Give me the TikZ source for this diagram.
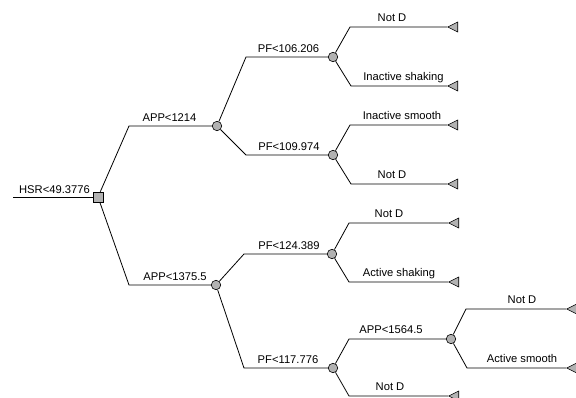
\documentclass[tikz,border=0pt]{standalone}
\usepackage{fontspec}
\setmainfont{Liberation Sans}
\usetikzlibrary{shapes.geometric}
\begin{document}
\begin{tikzpicture}[x=1pt,y=-1pt,
  edgeline/.style={draw=black, line width=0.8pt},
  decsq/.style={rectangle, draw=black, line width=0.6pt, fill=black!30, minimum size=10pt, inner sep=0pt},
  chance/.style={circle, draw=black, line width=0.6pt, fill=black!30, minimum size=9.5pt, inner sep=0pt},
  leaf/.style={isosceles triangle, isosceles triangle stretches, shape border rotate=180, draw=black, line width=0.6pt, fill=black!30, minimum width=10pt, minimum height=10pt, inner sep=0pt, anchor=apex},
  lbl/.style={anchor=base, inner sep=0pt, font=\fontsize{11.2}{13}\selectfont}]
\useasboundingbox (0,0) rectangle (576,398);

% nodes
\coordinate (in) at (13,197);
\node[decsq] (root) at (98,197) {};
\node[chance] (A1) at (217,126) {};
\node[chance] (A2) at (216,285) {};
\node[chance] (P1) at (333,57) {};
\node[chance] (P2) at (333,155) {};
\node[chance] (P3) at (332,254) {};
\node[chance] (P4) at (333,368) {};
\node[chance] (Q) at (451,339) {};
\node[leaf] (L1) at (447,27) {};
\node[leaf] (L2) at (447,86) {};
\node[leaf] (L3) at (447,125) {};
\node[leaf] (L4) at (447,184) {};
\node[leaf] (L5) at (448,223) {};
\node[leaf] (L6) at (448,282) {};
\node[leaf] (L7) at (448,396) {};
\node[leaf] (L8) at (566,309) {};
\node[leaf] (L9) at (566,368) {};

% elbows
\coordinate (eA1) at (129,126);
\coordinate (eA2) at (129,285);
\coordinate (eP1) at (246,57);
\coordinate (eP2) at (246,155);
\coordinate (eP3) at (244,254);
\coordinate (eP4) at (244,368);
\coordinate (eL1) at (350,27);
\coordinate (eL2) at (351,86);
\coordinate (eL3) at (350,125);
\coordinate (eL4) at (351,184);
\coordinate (eL5) at (349,223);
\coordinate (eL6) at (349,282);
\coordinate (eQ) at (349,339);
\coordinate (eL7) at (349,396);
\coordinate (eL8) at (466,309);
\coordinate (eL9) at (467,368);

% connectors
\draw[edgeline] (in) -- (root);
\draw[edgeline] (root) -- (eA1) -- (A1);
\draw[edgeline] (root) -- (eA2) -- (A2);
\draw[edgeline] (A1) -- (eP1) -- (P1);
\draw[edgeline] (A1) -- (eP2) -- (P2);
\draw[edgeline] (A2) -- (eP3) -- (P3);
\draw[edgeline] (A2) -- (eP4) -- (P4);
\draw[edgeline] (P1) -- (eL1) -- (L1.apex);
\draw[edgeline] (P1) -- (eL2) -- (L2.apex);
\draw[edgeline] (P2) -- (eL3) -- (L3.apex);
\draw[edgeline] (P2) -- (eL4) -- (L4.apex);
\draw[edgeline] (P3) -- (eL5) -- (L5.apex);
\draw[edgeline] (P3) -- (eL6) -- (L6.apex);
\draw[edgeline] (P4) -- (eQ) -- (Q);
\draw[edgeline] (P4) -- (eL7) -- (L7.apex);
\draw[edgeline] (Q) -- (eL8) -- (L8.apex);
\draw[edgeline] (Q) -- (eL9) -- (L9.apex);

% labels
\node[lbl] (tHSR) at (54.5,193.5) {HSR<49.3776};
\node[lbl] (tA1) at (169.5,121.5) {APP<1214};
\node[lbl] (tA2) at (175,280.5) {APP<1375.5};
\node[lbl] (tP1) at (288.5,52.5) {PF<106.206};
\node[lbl] (tP2) at (289,150.5) {PF<109.974};
\node[lbl] (tP3) at (289,249.5) {PF<124.389};
\node[lbl] (tP4) at (288,363) {PF<117.776};
\node[lbl] (tL1) at (392,21.5) {Not D};
\node[lbl] (tL2) at (403.5,80.5) {Inactive shaking};
\node[lbl] (tL3) at (402,119.5) {Inactive smooth};
\node[lbl] (tL4) at (392,178.5) {Not D};
\node[lbl] (tL5) at (389,217.5) {Not D};
\node[lbl] (tL6) at (399,276.5) {Active shaking};
\node[lbl] (tQ) at (391,333.5) {APP<1564.5};
\node[lbl] (tL7) at (390,390.5) {Not D};
\node[lbl] (tL8) at (522,303.5) {Not D};
\node[lbl] (tL9) at (522,362.5) {Active smooth};
\end{tikzpicture}
\end{document}
